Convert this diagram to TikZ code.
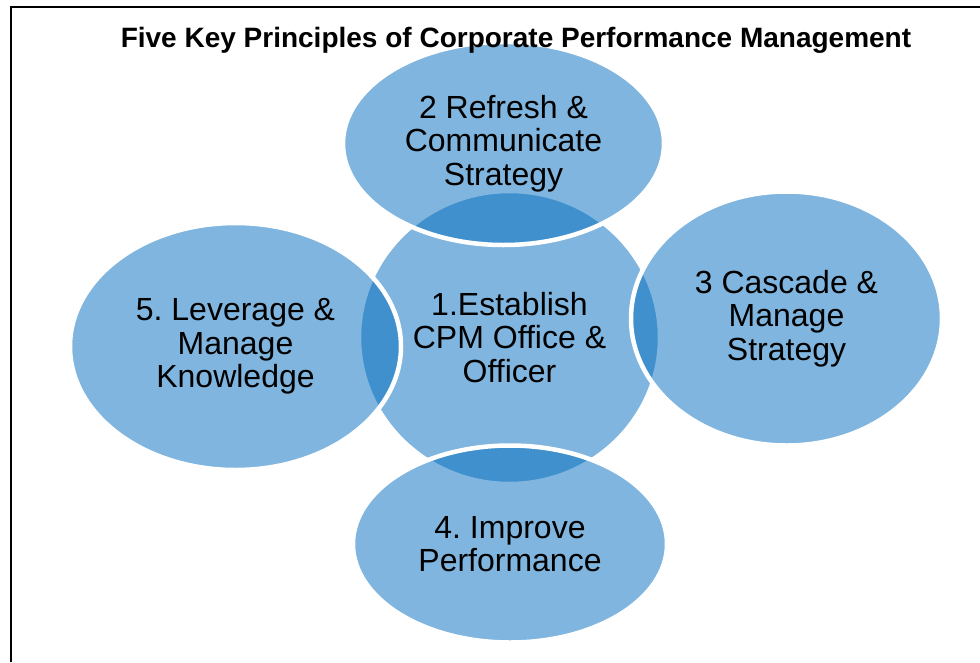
\documentclass[tikz,border=0pt]{standalone}
\usepackage{fontspec}
\setmainfont{Liberation Sans}
\usetikzlibrary{shapes.geometric}
\definecolor{cpmblue}{RGB}{0,108,190}
\begin{document}
\frenchspacing
\begin{tikzpicture}[x=1pt,y=-1pt,
  petal/.style={ellipse, fill=cpmblue, fill opacity=0.5, text opacity=1,
    draw=white, draw opacity=1, line width=4.5pt, inner sep=0pt, outer sep=0pt,
    align=center, text=black, font=\fontsize{32}{33.5}\selectfont},
  titletext/.style={font=\bfseries\fontsize{28}{32}\selectfont, inner sep=0pt},
  frameline/.style={line width=2pt, black}]
\useasboundingbox (0,0) rectangle (980,662);
\fill[white] (0,0) rectangle (980,662);
\coordinate (fbl) at (11,662);
\coordinate (ftl) at (11,7);
\coordinate (ftr) at (980,7);
\draw[frameline] (fbl) -- (ftl) -- (ftr);
\node[petal, minimum width=301pt, minimum height=293pt] (p1) at (509.5,337.5) {1.Establish\\CPM Office \&\\Officer};
\node[petal, minimum width=321pt, minimum height=203pt] (p2) at (503.5,143.5) {2 Refresh \&\\Communicate\\Strategy};
\node[petal, minimum width=311pt, minimum height=254pt] (p3) at (786.5,318.5) {3 Cascade \&\\Manage\\Strategy};
\node[petal, minimum width=314pt, minimum height=197pt] (p4) at (510,544) {4. Improve\\Performance};
\node[petal, minimum width=331pt, minimum height=247pt] (p5) at (235.5,346.5) {5. Leverage \&\\Manage\\Knowledge};
\node[titletext, anchor=base] (title) at (516,47) {Five Key Principles of Corporate Performance Management};
\end{tikzpicture}
\end{document}
